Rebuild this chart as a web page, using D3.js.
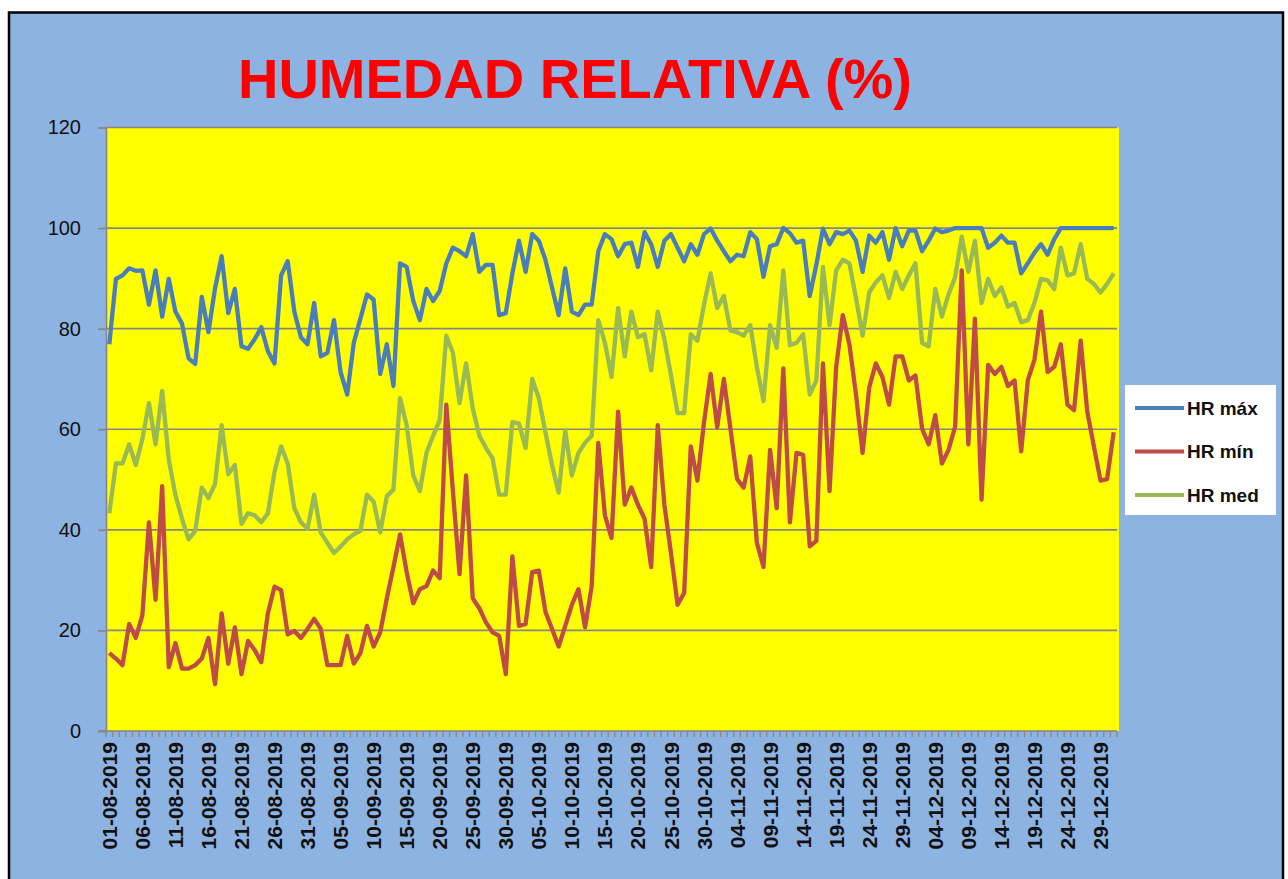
<!DOCTYPE html>
<meta charset="utf-8">
<style>
body {
  margin: 0;
  background: #fff;
}
svg {
  display: block;
  font-family: "Liberation Sans", Arial, sans-serif;
}
.grid line {
  stroke: #868686;
  stroke-width: 1.6px;
}
.line {
  fill: none;
  stroke-width: 4.3px;
  stroke-linejoin: round;
}
</style>
<body>
<svg id="chart" width="1288" height="879"></svg>
<script src="https://cdnjs.cloudflare.com/ajax/libs/d3/7.8.5/d3.min.js"></script>
<script>

// daily values 01-08-2019 .. 31-12-2019
var hrMax = [
  76.9, 89.9, 90.6, 92.0, 91.5, 91.6, 84.8, 91.6, 82.4, 89.9,
  83.4, 81.0, 74.1, 73.0, 86.3, 79.3, 88.0, 94.4, 83.1, 87.9,
  76.5, 76.0, 77.9, 80.3, 75.5, 73.1, 90.6, 93.4, 83.4, 78.3,
  76.9, 85.1, 74.5, 75.2, 81.7, 71.4, 66.9, 77.2, 82.0, 86.8,
  85.8, 71.0, 76.9, 68.6, 93.0, 92.3, 85.5, 81.7, 87.9, 85.5,
  87.5, 93.0, 96.1, 95.4, 94.4, 98.8, 91.3, 92.7, 92.7, 82.7,
  83.1, 91.0, 97.5, 91.3, 98.8, 97.5, 93.7, 88.2, 82.7, 92.0,
  83.4, 82.7, 84.8, 84.8, 95.4, 98.8, 97.8, 94.4, 96.8, 97.1,
  92.3, 99.2, 96.8, 92.3, 97.5, 98.8, 96.1, 93.4, 96.8, 94.7,
  98.8, 99.9, 97.5, 95.4, 93.4, 94.7, 94.4, 99.2, 97.8, 90.3,
  96.4, 96.8, 100, 99.0, 97.1, 97.5, 86.5, 92.7, 99.9, 96.8,
  99.2, 98.8, 99.5, 97.5, 91.3, 98.5, 97.1, 99.2, 93.7, 100,
  96.4, 99.5, 99.5, 95.4, 97.5, 99.9, 99.2, 99.5, 100, 100,
  100, 100, 100, 96.1, 97.1, 98.5, 97.1, 97.1, 91.0, 93.0,
  95.1, 96.8, 94.7, 97.8, 100, 100, 100, 100, 100, 100,
  100, 100, 100
];

var hrMin = [
  15.5, 14.4, 13.1, 21.3, 18.5, 23.0, 41.5, 26.1, 48.7, 12.7,
  17.5, 12.4, 12.4, 13.1, 14.4, 18.5, 9.3, 23.4, 13.4, 20.6,
  11.3, 17.9, 16.1, 13.7, 23.4, 28.7, 28.0, 19.2, 19.9, 18.5,
  20.3, 22.3, 20.3, 13.1, 13.1, 13.1, 18.9, 13.4, 15.5, 20.9,
  16.8, 19.6, 26.4, 32.6, 39.1, 31.6, 25.4, 28.2, 28.8, 31.9,
  30.4, 64.9, 47.7, 31.2, 50.8, 26.4, 24.4, 21.6, 19.6, 18.9,
  11.3, 34.7, 20.9, 21.3, 31.6, 31.9, 23.7, 20.3, 16.8, 20.9,
  25.1, 28.2, 20.6, 28.8, 57.3, 42.9, 38.4, 63.5, 45.0, 48.4,
  45.0, 42.2, 32.6, 60.8, 45.0, 35.4, 25.1, 27.5, 56.6, 49.8,
  61.4, 71.0, 60.4, 70.0, 60.1, 50.1, 48.4, 54.6, 37.4, 32.6,
  55.9, 44.3, 72.1, 41.5, 55.3, 54.9, 36.7, 37.8, 73.1, 47.7,
  72.4, 82.7, 76.9, 66.9, 55.3, 68.3, 73.1, 70.4, 64.9, 74.5,
  74.5, 69.7, 70.7, 60.1, 57.0, 62.8, 53.2, 55.9, 60.5, 91.6,
  57.0, 82.0, 46.0, 72.8, 71.0, 72.4, 68.6, 69.7, 55.6, 69.7,
  73.8, 83.4, 71.4, 72.4, 76.9, 64.9, 63.8, 77.6, 63.5, 56.6,
  49.8, 50.1, 59.4
];

var hrMed = [
  43.3, 53.2, 53.2, 57.0, 52.9, 58.0, 65.2, 57.0, 67.6, 53.9,
  47.0, 42.2, 38.1, 39.8, 48.4, 46.3, 49.1, 60.8, 51.1, 52.9,
  41.2, 43.3, 42.9, 41.5, 43.3, 51.5, 56.6, 53.2, 44.3, 41.5,
  40.2, 47.0, 39.5, 37.4, 35.4, 36.7, 38.1, 39.1, 39.8, 47.0,
  45.6, 39.5, 46.7, 48.0, 66.2, 60.8, 50.8, 47.7, 55.3, 58.7,
  61.8, 78.6, 75.2, 65.2, 73.1, 64.2, 58.7, 56.3, 54.2, 47.0,
  47.0, 61.4, 61.1, 56.3, 70.0, 66.2, 59.4, 52.9, 47.4, 59.7,
  50.8, 55.3, 57.3, 58.7, 81.7, 77.2, 70.4, 84.1, 74.5, 83.4,
  78.3, 78.9, 71.7, 83.4, 77.9, 70.7, 63.2, 63.2, 78.9, 77.6,
  84.8, 91.0, 84.1, 86.5, 79.6, 79.3, 78.6, 80.7, 72.4, 65.6,
  80.7, 76.2, 91.6, 76.7, 77.2, 78.9, 66.9, 69.7, 92.3, 80.7,
  91.6, 93.7, 93.0, 86.1, 78.6, 87.2, 89.2, 90.6, 86.1, 91.3,
  87.9, 90.6, 93.0, 77.2, 76.5, 87.9, 82.4, 86.8, 90.2, 98.3,
  91.3, 97.5, 85.1, 89.9, 86.5, 88.2, 84.4, 85.1, 81.3, 81.7,
  85.1, 89.9, 89.6, 87.9, 96.1, 90.6, 91.0, 96.8, 89.9, 88.9,
  87.2, 88.9, 91.0
];

var seriesNames = ["HR máx", "HR mín", "HR med"];
var seriesColors = ["#4a7ebb", "#be4b48", "#98b954"];
var yTicks = [0, 20, 40, 60, 80, 100, 120];

var dates = d3.timeDay.range(new Date(2019, 7, 1), new Date(2020, 0, 1));
var fmt = d3.timeFormat("%d-%m-%Y");
var labels = dates.map(fmt);
var tickLabels = labels.filter(function(d, i) { return i % 5 == 0; });

var svg = d3.select("#chart"),
    plot = {left: 106, right: 1117, top: 127.5, bottom: 731};

// frame
svg.append("rect")
    .attr("x", 9).attr("y", 12.5)
    .attr("width", 1274).attr("height", 900)
    .attr("fill", "#8db3e2")
    .attr("stroke", "#000")
    .attr("stroke-width", 2.5);

svg.append("text")
    .attr("x", 575)
    .attr("y", 98)
    .attr("text-anchor", "middle")
    .attr("fill", "#ff0000")
    .style("font-size", "56px")
    .style("font-weight", "bold")
    .text("HUMEDAD RELATIVA (%)");

var x = d3.scaleBand().domain(labels).range([plot.left, plot.right]).padding(0),
    y = d3.scaleLinear().domain([0, 120]).range([plot.bottom, plot.top]);

svg.append("rect")
    .attr("x", plot.left).attr("y", plot.top)
    .attr("width", plot.right - plot.left + 2)
    .attr("height", plot.bottom - plot.top)
    .attr("fill", "#ffff00");

svg.append("g")
    .attr("class", "grid")
    .selectAll("line")
    .data(yTicks.slice(1))
  .enter().append("line")
    .attr("x1", plot.left).attr("x2", plot.right)
    .attr("y1", function(d) { return y(d); })
    .attr("y2", function(d) { return y(d); });

// y axis
var yAxis = svg.append("g")
    .attr("transform", "translate(" + plot.left + ",0)")
    .call(d3.axisLeft(y).tickValues(yTicks).tickSize(8).tickPadding(17));
yAxis.select(".domain").attr("stroke", "#868686").attr("stroke-width", 1.6);
yAxis.selectAll(".tick line").attr("stroke", "#868686").attr("stroke-width", 1.6);
yAxis.selectAll(".tick text")
    .attr("fill", "#111")
    .style("font-size", "20px")
    .style("font-family", "'Liberation Sans', Arial, sans-serif");

// x axis: small ticks between every day
var xAxis = svg.append("g")
    .attr("transform", "translate(0," + plot.bottom + ")");
xAxis.append("line")
    .attr("x1", plot.left - 8).attr("x2", plot.right)
    .attr("stroke", "#868686").attr("stroke-width", 1.6);
xAxis.selectAll(".tk")
    .data(labels.concat(["end"]))
  .enter().append("line")
    .attr("class", "tk")
    .attr("x1", function(d, i) { return plot.left + i * x.bandwidth(); })
    .attr("x2", function(d, i) { return plot.left + i * x.bandwidth(); })
    .attr("y1", 0).attr("y2", 6)
    .attr("stroke", "#868686").attr("stroke-width", 1.3);

xAxis.selectAll(".lbl")
    .data(tickLabels)
  .enter().append("text")
    .attr("class", "lbl")
    .attr("transform", function(d) {
      return "translate(" + (x(d) + x.bandwidth() / 2) + ",11) rotate(-90)";
    })
    .attr("dy", ".36em")
    .attr("text-anchor", "end")
    .attr("fill", "#111")
    .style("font-size", "21px")
    .style("font-weight", "bold")
    .text(function(d) { return d; });

var line = d3.line()
    .x(function(d, i) { return x(labels[i]) + x.bandwidth() / 2; })
    .y(function(d) { return y(d); });

svg.selectAll(".line")
    .data([hrMax, hrMin, hrMed])
  .enter().append("path")
    .attr("class", "line")
    .attr("stroke", function(d, i) { return seriesColors[i]; })
    .attr("d", line);

// legend
var legend = svg.append("g")
    .attr("transform", "translate(1125,385)");
legend.append("rect")
    .attr("width", 151).attr("height", 130)
    .attr("fill", "#fff");
var item = legend.selectAll(".item")
    .data(seriesNames)
  .enter().append("g")
    .attr("class", "item")
    .attr("transform", function(d, i) { return "translate(0," + (23 + i * 43.5) + ")"; });
item.append("line")
    .attr("x1", 10).attr("x2", 59)
    .attr("stroke", function(d, i) { return seriesColors[i]; })
    .attr("stroke-width", 4);
item.append("text")
    .attr("x", 62)
    .attr("dy", ".36em")
    .attr("fill", "#111")
    .style("font-size", "19px")
    .style("font-weight", "bold")
    .text(function(d) { return d; });

</script>
</body>
